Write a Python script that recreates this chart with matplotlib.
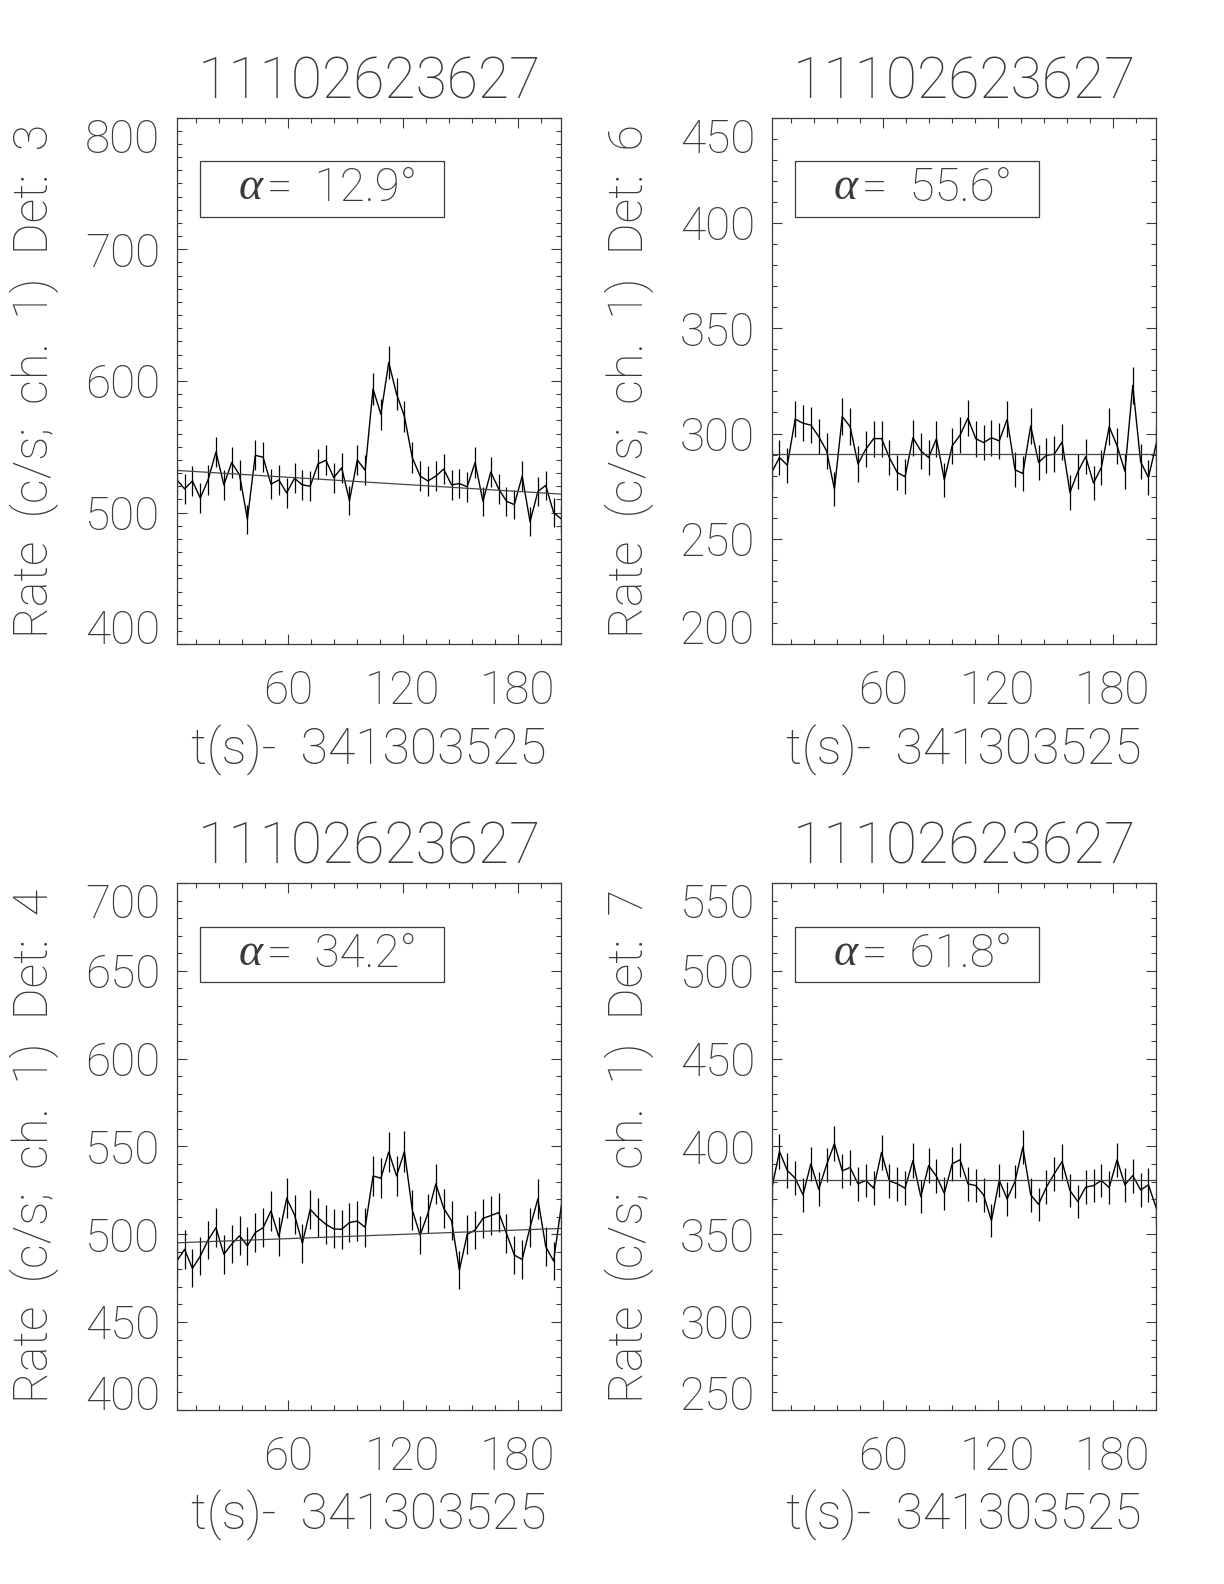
import numpy as np
import matplotlib
matplotlib.use("Agg")
import matplotlib.pyplot as plt
from matplotlib.patches import Rectangle
from matplotlib.ticker import MultipleLocator

# curvas de luz, 50 bins de 4.096 s
T0 = 2.0
BIN = 4.096
titulo = "11102623627"
xlabel = "t(s)-  341303525"

det3 = [525, 518, 524, 511, 525, 546, 521, 538, 528.5, 495,
        543.5, 542, 521.6, 524.7, 515, 526, 521, 520, 537, 539.7,
        526.5, 534, 509, 540, 532, 594, 574.6, 614, 590, 573,
        541.7, 527.7, 524, 527.7, 533, 521, 522, 519.6, 538, 508.6,
        530.8, 518, 508.6, 506, 527.7, 493, 516, 520.6, 500, 495]
det6 = [281.5, 288.6, 285, 306.8, 304.9, 304, 298.6, 291.8, 273.6, 308,
        303.3, 285.5, 292.6, 297.6, 297.6, 288.6, 281.5, 279.5, 298, 291.8,
        288.6, 297.6, 278, 294.2, 299.2, 307.3, 297.6, 295.7, 298, 296.5,
        306.8, 282.8, 281, 303.6, 286.3, 289.7, 290.2, 296, 272, 281.8,
        289, 276.5, 283.9, 303.3, 294.2, 282.1, 322.9, 286.6, 279.1, 295.3]
det4 = [484.7, 491.3, 480.5, 487.5, 496.7, 503.7, 488.5, 494.4, 499.1, 493.4,
        500.9, 503.7, 513.2, 498.6, 520.5, 511, 494.8, 514.2, 509.4, 505.6,
        503, 502.8, 506.6, 507.5, 503.9, 533.2, 531.9, 546.8, 533.2, 547.1,
        513.8, 499.5, 511.9, 528.7, 514.8, 507.7, 479.5, 500, 502.4, 509,
        510.6, 512.3, 500.5, 488.1, 485.6, 503.9, 520.1, 492.9, 484.7, 516.7]
det7 = [375.6, 397.1, 386.3, 381.9, 372.4, 390.1, 375.6, 389.5, 401.5, 386.1,
        388, 378.7, 380.6, 376.2, 396.6, 380.4, 378.7, 376.2, 392, 371.4,
        389.1, 382.9, 373.3, 390.1, 392.4, 378.7, 377.7, 372.4, 357.7, 380.6,
        370.1, 380, 399.6, 372.4, 367, 376.8, 384.4, 391.4, 374.9, 368.6,
        376.8, 377.7, 380.6, 376.6, 392.4, 378.1, 383.4, 375.2, 378.1, 364.8]

# ajuste lineal de fondo: valor al inicio y al final
fondos = [(532, 514), (290.2, 290.2), (495.1, 503.3), (380.6, 380.6)]
angulos = ["12.9", "55.6", "34.2", "61.8"]
detectores = ["3", "6", "4", "7"]
rangos = [(400, 800), (200, 450), (400, 700), (250, 550)]
mayores = [100, 50, 50, 50]

curvas = [det3, det6, det4, det7]

plt.rcParams['font.family'] = ['Roboto', 'DejaVu Sans']
plt.rcParams['font.weight'] = 'light'
gris = '#3a3a3a'

fig = plt.figure(figsize=(12.24, 15.84), dpi=100)
pos = [(0.1444, 0.5933), (0.6304, 0.5933), (0.1444, 0.1100), (0.6304, 0.1100)]
W, H = 0.3143, 0.3325

for k in range(4):
    ax = fig.add_axes([pos[k][0], pos[k][1], W, H])
    rate = np.array(curvas[k])
    t = T0 + BIN * np.arange(len(rate))
    err = np.sqrt(rate / BIN)

    ax.plot(t, rate, color='k', lw=1.0)
    ax.vlines(t, rate - err, rate + err, color='k', lw=0.9)
    ax.plot([t[0], t[-1]], fondos[k], color='#444444', lw=0.9)

    ax.set_xlim(t[0], t[-1])
    ax.set_yticks(np.arange(rangos[k][0], rangos[k][1] + 1, mayores[k]))
    ax.set_ylim(*rangos[k])
    ax.xaxis.set_major_locator(MultipleLocator(60))
    ax.xaxis.set_minor_locator(MultipleLocator(12))
    ax.yaxis.set_minor_locator(MultipleLocator(10))
    ax.tick_params(which='both', direction='in', top=True, right=True,
                   colors=gris, labelcolor=gris, labelsize=33, width=0.8)
    ax.tick_params(which='major', length=7)
    ax.tick_params(which='minor', length=3.5)
    ax.tick_params(axis='x', pad=18)
    ax.tick_params(axis='y', pad=12)
    # etiquetas extremas dentro del rango, como en IDL
    etiquetas = ax.get_yticklabels()
    etiquetas[0].set_va('baseline')
    etiquetas[-1].set_va('top')
    for s in ax.spines.values():
        s.set_color(gris)
        s.set_linewidth(0.9)

    ax.set_title(titulo, fontsize=41, color=gris, pad=14, fontweight='light')
    ax.set_xlabel(xlabel, fontsize=36, color=gris, labelpad=8, fontweight='light')
    ax.text(-0.37, 0.5, "Rate  (c/s;  ch.  1)  Det:  " + detectores[k],
            transform=ax.transAxes, rotation=90, ha='center', va='center',
            fontsize=35, color=gris, fontweight='light')

    # recuadro con el angulo
    ax.add_patch(Rectangle((0.06, 0.812), 0.635, 0.105, transform=ax.transAxes,
                           fill=False, edgecolor=gris, lw=0.9))
    ax.text(0.16, 0.866, "α", transform=ax.transAxes, ha='left', va='center',
            fontsize=33, color=gris, family=['Liberation Serif'],
            fontstyle='italic', fontweight='normal')
    ax.text(0.235, 0.866, "=  " + angulos[k] + "°",
            transform=ax.transAxes, ha='left', va='center',
            fontsize=33, color=gris, fontweight='light')

fig.savefig("out.png", dpi=100)
